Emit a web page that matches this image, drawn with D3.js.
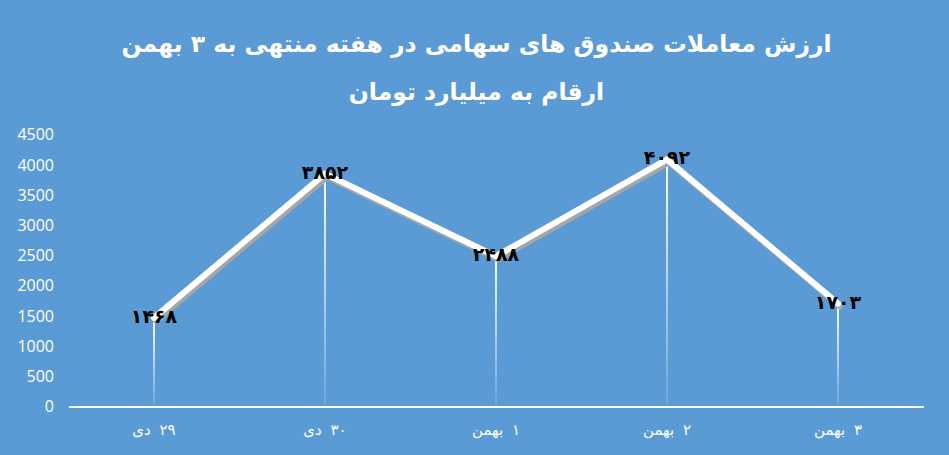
<!DOCTYPE html>
<html>
<head>
<meta charset="utf-8">
<script src="https://cdn.jsdelivr.net/npm/d3@7"></script>
<style>
  body { margin: 0; background: #5b9bd5; }
  svg { display: block; }
</style>
</head>
<body>
<div id="chart"></div>
<script>
// data
var categories = ["۲۹  دی", "۳۰  دی", "۱  بهمن", "۲  بهمن", "۳  بهمن"];
var values = [1468, 3852, 2488, 4092, 1703];
var valueLabels = ["۱۴۶۸", "۳۸۵۲", "۲۴۸۸", "۴۰۹۲", "۱۷۰۳"];
var yTicks = [0, 500, 1000, 1500, 2000, 2500, 3000, 3500, 4000, 4500];
var titleLines = ["ارزش معاملات صندوق های سهامی در هفته منتهی به ۳ بهمن", "ارقام به میلیارد تومان"];

var width = 949, height = 455;
var margin = {left: 68.5, right: 25.5, top: 134.7, bottom: 48.5};

var svg = d3.select("#chart").append("svg")
  .attr("width", width)
  .attr("height", height);

svg.append("rect").attr("width", width).attr("height", height).attr("fill", "#5b9bd5");

var x = d3.scaleBand()
  .domain(categories)
  .range([margin.left, width - margin.right]);

var y = d3.scaleLinear()
  .domain([0, 4500])
  .range([height - margin.bottom, margin.top]);

// gradient for drop lines
var defs = svg.append("defs");
var grad = defs.append("linearGradient")
  .attr("id", "dropGrad")
  .attr("x1", 0).attr("y1", 0).attr("x2", 0).attr("y2", 1);
grad.append("stop").attr("offset", "0%").attr("stop-color", "#fff").attr("stop-opacity", 1);
grad.append("stop").attr("offset", "100%").attr("stop-color", "#fff").attr("stop-opacity", 0.1);

// title
svg.selectAll(".title")
  .data(titleLines)
  .enter().append("text")
  .attr("class", "title")
  .attr("x", width / 2 + 2)
  .attr("y", function(d, i) { return 52 + i * 48; })
  .attr("text-anchor", "middle")
  .attr("direction", "rtl")
  .style("font-family", "DejaVu Sans")
  .style("font-weight", "bold")
  .style("font-size", "23.5px")
  .style("fill", "#fff")
  .text(function(d) { return d; });

// y axis labels (no line)
var yAxis = d3.axisLeft(y).tickValues(yTicks).tickFormat(d3.format("d")).tickSize(0).tickPadding(0);
var gy = svg.append("g")
  .attr("transform", "translate(54,0)")
  .call(yAxis);
gy.select(".domain").remove();
gy.selectAll("text")
  .style("font-family", "Open Sans")
  .style("font-size", "16px")
  .style("fill", "#fff");

// drop lines
svg.selectAll(".drop")
  .data(values)
  .enter().append("rect")
  .attr("class", "drop")
  .attr("x", function(d, i) { return x.bandwidth() / 2 + x(categories[i]) - 1; })
  .attr("y", function(d) { return y(d); })
  .attr("width", 2)
  .attr("height", function(d) { return y(0) - y(d); })
  .attr("fill", "url(#dropGrad)");

// x axis
var xAxis = d3.axisBottom(x).tickSize(0).tickPadding(18);
var gx = svg.append("g")
  .attr("transform", "translate(0," + y(0) + ")")
  .call(xAxis);
gx.select(".domain")
  .attr("stroke", "#fff")
  .attr("stroke-width", 2);
gx.selectAll("text")
  .attr("direction", "rtl")
  .style("font-family", "DejaVu Sans")
  .style("font-size", "15px")
  .style("word-spacing", "4px")
  .style("fill", "#fff");

// line with shadow
var line = d3.line()
  .x(function(d, i) { return x(categories[i]) + x.bandwidth() / 2; })
  .y(function(d) { return y(d); });

svg.append("path")
  .datum(values)
  .attr("d", line)
  .attr("transform", "translate(2,3)")
  .attr("fill", "none")
  .attr("stroke", "#a6a6a6")
  .attr("stroke-width", 6)
  .attr("stroke-linejoin", "round")
  .attr("stroke-linecap", "round");

svg.append("path")
  .datum(values)
  .attr("d", line)
  .attr("fill", "none")
  .attr("stroke", "#fff")
  .attr("stroke-width", 6)
  .attr("stroke-linejoin", "miter")
  .attr("stroke-linecap", "round");

// data labels
svg.selectAll(".label")
  .data(values)
  .enter().append("text")
  .attr("class", "label")
  .attr("x", function(d, i) { return x(categories[i]) + x.bandwidth() / 2; })
  .attr("y", function(d) { return y(d) + 5; })
  .attr("text-anchor", "middle")
  .style("font-family", "DejaVu Sans")
  .style("font-weight", "bold")
  .style("font-size", "19px")
  .style("fill", "#000")
  .text(function(d, i) { return valueLabels[i]; });
</script>
</body>
</html>
